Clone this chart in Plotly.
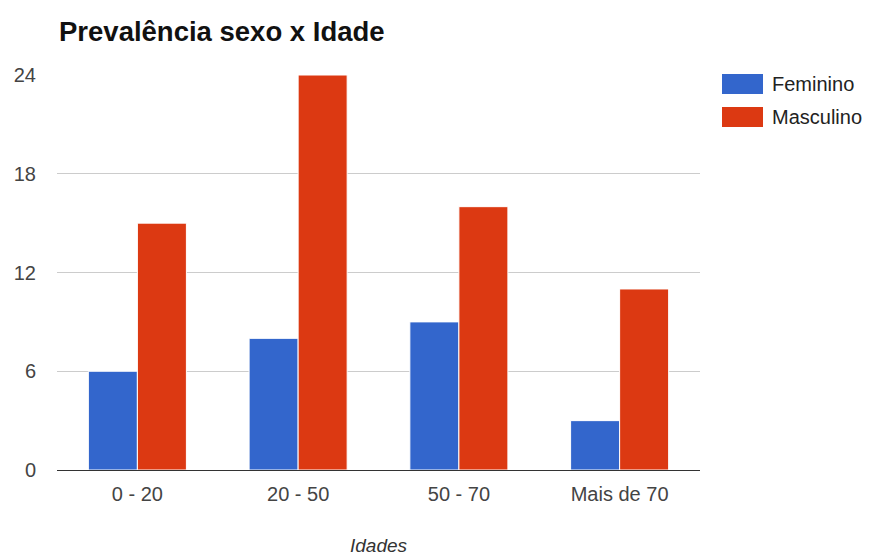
import plotly.graph_objects as go

categories = ["0 - 20", "20 - 50", "50 - 70", "Mais de 70"]
feminino = [6, 8, 9, 3]
masculino = [15, 24, 16, 11]
y_ticks = [0, 6, 12, 18, 24]
series_names = ["Feminino", "Masculino"]
colors = ["#3366cc", "#dc3912"]

FONT = "Liberation Sans, Arial, sans-serif"

fig = go.Figure()
for name, vals, col in zip(series_names, [feminino, masculino], colors):
    fig.add_trace(go.Bar(
        x=categories, y=vals, name=name,
        marker=dict(color=col, line=dict(color="white", width=1)),
        showlegend=False,
    ))

fig.update_layout(
    width=870, height=557,
    margin=dict(l=57, r=170, t=75, b=87),
    paper_bgcolor="white", plot_bgcolor="white",
    barmode="group", bargap=0.39, bargroupgap=0.0,
    title=dict(text="<b>Prevalência sexo x Idade</b>", x=59/870, xanchor="left",
               y=1 - 31/557, yanchor="middle",
               font=dict(family=FONT, size=27.5, color="#111")),
    font=dict(family=FONT, size=20, color="#444"),
    xaxis=dict(showgrid=False, showline=True, linecolor="#333", linewidth=1,
               ticks="", ticklabelstandoff=6,
               tickfont=dict(family=FONT, size=20, color="#444")),
    yaxis=dict(range=[0, 24], tickvals=y_ticks, showgrid=True, gridcolor="#cccccc",
               zeroline=False, showline=False, ticks="", ticklabelstandoff=20,
               tickfont=dict(family=FONT, size=20, color="#444")),
)

# x-axis title
fig.add_annotation(text="<i>Idades</i>", xref="paper", yref="paper",
                   x=0.5, y=-(545 - 470) / (470 - 75), yanchor="middle",
                   showarrow=False, font=dict(family=FONT, size=19, color="#333"))

# manual legend
leg_y = [84, 117]
for name, col, yy in zip(series_names, colors, leg_y):
    fig.add_shape(type="rect", xref="paper", yref="paper",
                  x0=(722 - 57) / 643, x1=(763 - 57) / 643,
                  y0=(470 - (yy + 10)) / 395, y1=(470 - (yy - 10)) / 395,
                  fillcolor=col, line=dict(width=0))
    fig.add_annotation(text=name, xref="paper", yref="paper",
                       x=(770 - 57) / 643, y=(470 - yy) / 395,
                       xanchor="left", yanchor="middle", showarrow=False,
                       font=dict(family=FONT, size=20, color="#222"))

fig.write_html("out.html")
